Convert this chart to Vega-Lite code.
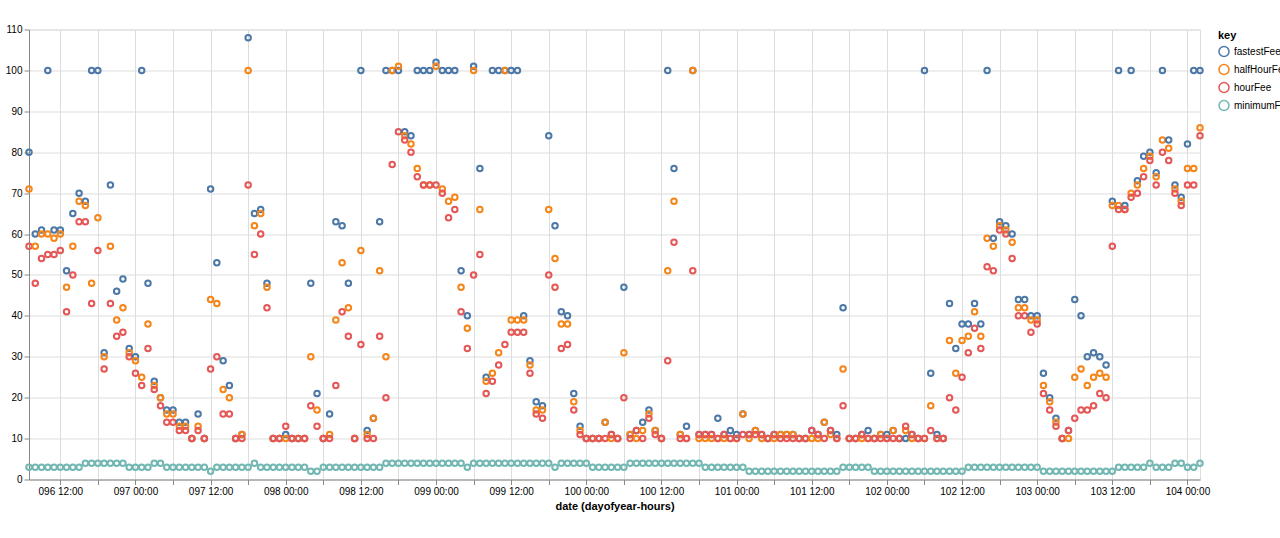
{
  "$schema": "https://vega.github.io/schema/vega-lite/v6.json",
  "width": 1171,
  "height": 450,
  "autosize": "none",
  "padding": {"left": 29, "top": 29.5, "right": 80, "bottom": 59},
  "data": {
    "values": [
      {"date": "2018-04-06T07:00", "fastestFee": 80, "halfHourFee": 71, "hourFee": 57, "minimumFee": 3},
      {"date": "2018-04-06T08:00", "fastestFee": 60, "halfHourFee": 57, "hourFee": 48, "minimumFee": 3},
      {"date": "2018-04-06T09:00", "fastestFee": 61, "halfHourFee": 60, "hourFee": 54, "minimumFee": 3},
      {"date": "2018-04-06T10:00", "fastestFee": 100, "halfHourFee": 60, "hourFee": 55, "minimumFee": 3},
      {"date": "2018-04-06T11:00", "fastestFee": 61, "halfHourFee": 59, "hourFee": 55, "minimumFee": 3},
      {"date": "2018-04-06T12:00", "fastestFee": 61, "halfHourFee": 60, "hourFee": 56, "minimumFee": 3},
      {"date": "2018-04-06T13:00", "fastestFee": 51, "halfHourFee": 47, "hourFee": 41, "minimumFee": 3},
      {"date": "2018-04-06T14:00", "fastestFee": 65, "halfHourFee": 57, "hourFee": 50, "minimumFee": 3},
      {"date": "2018-04-06T15:00", "fastestFee": 70, "halfHourFee": 68, "hourFee": 63, "minimumFee": 3},
      {"date": "2018-04-06T16:00", "fastestFee": 68, "halfHourFee": 67, "hourFee": 63, "minimumFee": 4},
      {"date": "2018-04-06T17:00", "fastestFee": 100, "halfHourFee": 48, "hourFee": 43, "minimumFee": 4},
      {"date": "2018-04-06T18:00", "fastestFee": 100, "halfHourFee": 64, "hourFee": 56, "minimumFee": 4},
      {"date": "2018-04-06T19:00", "fastestFee": 31, "halfHourFee": 30, "hourFee": 27, "minimumFee": 4},
      {"date": "2018-04-06T20:00", "fastestFee": 72, "halfHourFee": 57, "hourFee": 43, "minimumFee": 4},
      {"date": "2018-04-06T21:00", "fastestFee": 46, "halfHourFee": 39, "hourFee": 35, "minimumFee": 4},
      {"date": "2018-04-06T22:00", "fastestFee": 49, "halfHourFee": 42, "hourFee": 36, "minimumFee": 4},
      {"date": "2018-04-06T23:00", "fastestFee": 32, "halfHourFee": 31, "hourFee": 30, "minimumFee": 3},
      {"date": "2018-04-07T00:00", "fastestFee": 30, "halfHourFee": 29, "hourFee": 26, "minimumFee": 3},
      {"date": "2018-04-07T01:00", "fastestFee": 100, "halfHourFee": 25, "hourFee": 23, "minimumFee": 3},
      {"date": "2018-04-07T02:00", "fastestFee": 48, "halfHourFee": 38, "hourFee": 32, "minimumFee": 3},
      {"date": "2018-04-07T03:00", "fastestFee": 24, "halfHourFee": 23, "hourFee": 22, "minimumFee": 4},
      {"date": "2018-04-07T04:00", "fastestFee": 20, "halfHourFee": 20, "hourFee": 18, "minimumFee": 4},
      {"date": "2018-04-07T05:00", "fastestFee": 17, "halfHourFee": 16, "hourFee": 14, "minimumFee": 3},
      {"date": "2018-04-07T06:00", "fastestFee": 17, "halfHourFee": 16, "hourFee": 14, "minimumFee": 3},
      {"date": "2018-04-07T07:00", "fastestFee": 14, "halfHourFee": 13, "hourFee": 12, "minimumFee": 3},
      {"date": "2018-04-07T08:00", "fastestFee": 14, "halfHourFee": 13, "hourFee": 12, "minimumFee": 3},
      {"date": "2018-04-07T09:00", "fastestFee": 10, "halfHourFee": 10, "hourFee": 10, "minimumFee": 3},
      {"date": "2018-04-07T10:00", "fastestFee": 16, "halfHourFee": 13, "hourFee": 12, "minimumFee": 3},
      {"date": "2018-04-07T11:00", "fastestFee": 10, "halfHourFee": 10, "hourFee": 10, "minimumFee": 3},
      {"date": "2018-04-07T12:00", "fastestFee": 71, "halfHourFee": 44, "hourFee": 27, "minimumFee": 2},
      {"date": "2018-04-07T13:00", "fastestFee": 53, "halfHourFee": 43, "hourFee": 30, "minimumFee": 3},
      {"date": "2018-04-07T14:00", "fastestFee": 29, "halfHourFee": 22, "hourFee": 16, "minimumFee": 3},
      {"date": "2018-04-07T15:00", "fastestFee": 23, "halfHourFee": 20, "hourFee": 16, "minimumFee": 3},
      {"date": "2018-04-07T16:00", "fastestFee": 10, "halfHourFee": 10, "hourFee": 10, "minimumFee": 3},
      {"date": "2018-04-07T17:00", "fastestFee": 11, "halfHourFee": 11, "hourFee": 10, "minimumFee": 3},
      {"date": "2018-04-07T18:00", "fastestFee": 108, "halfHourFee": 100, "hourFee": 72, "minimumFee": 3},
      {"date": "2018-04-07T19:00", "fastestFee": 65, "halfHourFee": 62, "hourFee": 55, "minimumFee": 4},
      {"date": "2018-04-07T20:00", "fastestFee": 66, "halfHourFee": 65, "hourFee": 60, "minimumFee": 3},
      {"date": "2018-04-07T21:00", "fastestFee": 48, "halfHourFee": 47, "hourFee": 42, "minimumFee": 3},
      {"date": "2018-04-07T22:00", "fastestFee": 10, "halfHourFee": 10, "hourFee": 10, "minimumFee": 3},
      {"date": "2018-04-07T23:00", "fastestFee": 10, "halfHourFee": 10, "hourFee": 10, "minimumFee": 3},
      {"date": "2018-04-08T00:00", "fastestFee": 11, "halfHourFee": 10, "hourFee": 13, "minimumFee": 3},
      {"date": "2018-04-08T01:00", "fastestFee": 10, "halfHourFee": 10, "hourFee": 10, "minimumFee": 3},
      {"date": "2018-04-08T02:00", "fastestFee": 10, "halfHourFee": 10, "hourFee": 10, "minimumFee": 3},
      {"date": "2018-04-08T03:00", "fastestFee": 10, "halfHourFee": 10, "hourFee": 10, "minimumFee": 3},
      {"date": "2018-04-08T04:00", "fastestFee": 48, "halfHourFee": 30, "hourFee": 18, "minimumFee": 2},
      {"date": "2018-04-08T05:00", "fastestFee": 21, "halfHourFee": 17, "hourFee": 13, "minimumFee": 2},
      {"date": "2018-04-08T06:00", "fastestFee": 10, "halfHourFee": 10, "hourFee": 10, "minimumFee": 3},
      {"date": "2018-04-08T07:00", "fastestFee": 16, "halfHourFee": 11, "hourFee": 10, "minimumFee": 3},
      {"date": "2018-04-08T08:00", "fastestFee": 63, "halfHourFee": 39, "hourFee": 23, "minimumFee": 3},
      {"date": "2018-04-08T09:00", "fastestFee": 62, "halfHourFee": 53, "hourFee": 41, "minimumFee": 3},
      {"date": "2018-04-08T10:00", "fastestFee": 48, "halfHourFee": 42, "hourFee": 35, "minimumFee": 3},
      {"date": "2018-04-08T11:00", "fastestFee": 10, "halfHourFee": 10, "hourFee": 10, "minimumFee": 3},
      {"date": "2018-04-08T12:00", "fastestFee": 100, "halfHourFee": 56, "hourFee": 33, "minimumFee": 3},
      {"date": "2018-04-08T13:00", "fastestFee": 12, "halfHourFee": 11, "hourFee": 10, "minimumFee": 3},
      {"date": "2018-04-08T14:00", "fastestFee": 15, "halfHourFee": 15, "hourFee": 10, "minimumFee": 3},
      {"date": "2018-04-08T15:00", "fastestFee": 63, "halfHourFee": 51, "hourFee": 35, "minimumFee": 3},
      {"date": "2018-04-08T16:00", "fastestFee": 100, "halfHourFee": 30, "hourFee": 20, "minimumFee": 4},
      {"date": "2018-04-08T17:00", "fastestFee": 100, "halfHourFee": 100, "hourFee": 77, "minimumFee": 4},
      {"date": "2018-04-08T18:00", "fastestFee": 100, "halfHourFee": 101, "hourFee": 85, "minimumFee": 4},
      {"date": "2018-04-08T19:00", "fastestFee": 85, "halfHourFee": 84, "hourFee": 83, "minimumFee": 4},
      {"date": "2018-04-08T20:00", "fastestFee": 84, "halfHourFee": 82, "hourFee": 80, "minimumFee": 4},
      {"date": "2018-04-08T21:00", "fastestFee": 100, "halfHourFee": 76, "hourFee": 74, "minimumFee": 4},
      {"date": "2018-04-08T22:00", "fastestFee": 100, "halfHourFee": 72, "hourFee": 72, "minimumFee": 4},
      {"date": "2018-04-08T23:00", "fastestFee": 100, "halfHourFee": 72, "hourFee": 72, "minimumFee": 4},
      {"date": "2018-04-09T00:00", "fastestFee": 102, "halfHourFee": 101, "hourFee": 72, "minimumFee": 4},
      {"date": "2018-04-09T01:00", "fastestFee": 100, "halfHourFee": 71, "hourFee": 70, "minimumFee": 4},
      {"date": "2018-04-09T02:00", "fastestFee": 100, "halfHourFee": 68, "hourFee": 64, "minimumFee": 4},
      {"date": "2018-04-09T03:00", "fastestFee": 100, "halfHourFee": 69, "hourFee": 66, "minimumFee": 4},
      {"date": "2018-04-09T04:00", "fastestFee": 51, "halfHourFee": 47, "hourFee": 41, "minimumFee": 4},
      {"date": "2018-04-09T05:00", "fastestFee": 40, "halfHourFee": 37, "hourFee": 32, "minimumFee": 3},
      {"date": "2018-04-09T06:00", "fastestFee": 101, "halfHourFee": 100, "hourFee": 50, "minimumFee": 4},
      {"date": "2018-04-09T07:00", "fastestFee": 76, "halfHourFee": 66, "hourFee": 55, "minimumFee": 4},
      {"date": "2018-04-09T08:00", "fastestFee": 25, "halfHourFee": 24, "hourFee": 21, "minimumFee": 4},
      {"date": "2018-04-09T09:00", "fastestFee": 100, "halfHourFee": 26, "hourFee": 24, "minimumFee": 4},
      {"date": "2018-04-09T10:00", "fastestFee": 100, "halfHourFee": 31, "hourFee": 28, "minimumFee": 4},
      {"date": "2018-04-09T11:00", "fastestFee": 100, "halfHourFee": 100, "hourFee": 33, "minimumFee": 4},
      {"date": "2018-04-09T12:00", "fastestFee": 100, "halfHourFee": 39, "hourFee": 36, "minimumFee": 4},
      {"date": "2018-04-09T13:00", "fastestFee": 100, "halfHourFee": 39, "hourFee": 36, "minimumFee": 4},
      {"date": "2018-04-09T14:00", "fastestFee": 40, "halfHourFee": 39, "hourFee": 36, "minimumFee": 4},
      {"date": "2018-04-09T15:00", "fastestFee": 29, "halfHourFee": 28, "hourFee": 26, "minimumFee": 4},
      {"date": "2018-04-09T16:00", "fastestFee": 19, "halfHourFee": 17, "hourFee": 16, "minimumFee": 4},
      {"date": "2018-04-09T17:00", "fastestFee": 18, "halfHourFee": 17, "hourFee": 15, "minimumFee": 4},
      {"date": "2018-04-09T18:00", "fastestFee": 84, "halfHourFee": 66, "hourFee": 50, "minimumFee": 4},
      {"date": "2018-04-09T19:00", "fastestFee": 62, "halfHourFee": 54, "hourFee": 47, "minimumFee": 3},
      {"date": "2018-04-09T20:00", "fastestFee": 41, "halfHourFee": 38, "hourFee": 32, "minimumFee": 4},
      {"date": "2018-04-09T21:00", "fastestFee": 40, "halfHourFee": 38, "hourFee": 33, "minimumFee": 4},
      {"date": "2018-04-09T22:00", "fastestFee": 21, "halfHourFee": 19, "hourFee": 17, "minimumFee": 4},
      {"date": "2018-04-09T23:00", "fastestFee": 13, "halfHourFee": 12, "hourFee": 11, "minimumFee": 4},
      {"date": "2018-04-10T00:00", "fastestFee": 10, "halfHourFee": 10, "hourFee": 10, "minimumFee": 4},
      {"date": "2018-04-10T01:00", "fastestFee": 10, "halfHourFee": 10, "hourFee": 10, "minimumFee": 3},
      {"date": "2018-04-10T02:00", "fastestFee": 10, "halfHourFee": 10, "hourFee": 10, "minimumFee": 3},
      {"date": "2018-04-10T03:00", "fastestFee": 14, "halfHourFee": 14, "hourFee": 10, "minimumFee": 3},
      {"date": "2018-04-10T04:00", "fastestFee": 11, "halfHourFee": 10, "hourFee": 11, "minimumFee": 3},
      {"date": "2018-04-10T05:00", "fastestFee": 10, "halfHourFee": 10, "hourFee": 10, "minimumFee": 3},
      {"date": "2018-04-10T06:00", "fastestFee": 47, "halfHourFee": 31, "hourFee": 20, "minimumFee": 3},
      {"date": "2018-04-10T07:00", "fastestFee": 11, "halfHourFee": 11, "hourFee": 10, "minimumFee": 4},
      {"date": "2018-04-10T08:00", "fastestFee": 12, "halfHourFee": 10, "hourFee": 12, "minimumFee": 4},
      {"date": "2018-04-10T09:00", "fastestFee": 14, "halfHourFee": 12, "hourFee": 10, "minimumFee": 4},
      {"date": "2018-04-10T10:00", "fastestFee": 17, "halfHourFee": 16, "hourFee": 15, "minimumFee": 4},
      {"date": "2018-04-10T11:00", "fastestFee": 12, "halfHourFee": 12, "hourFee": 11, "minimumFee": 4},
      {"date": "2018-04-10T12:00", "fastestFee": 10, "halfHourFee": 10, "hourFee": 10, "minimumFee": 4},
      {"date": "2018-04-10T13:00", "fastestFee": 100, "halfHourFee": 51, "hourFee": 29, "minimumFee": 4},
      {"date": "2018-04-10T14:00", "fastestFee": 76, "halfHourFee": 68, "hourFee": 58, "minimumFee": 4},
      {"date": "2018-04-10T15:00", "fastestFee": 11, "halfHourFee": 11, "hourFee": 10, "minimumFee": 4},
      {"date": "2018-04-10T16:00", "fastestFee": 13, "halfHourFee": 10, "hourFee": 10, "minimumFee": 4},
      {"date": "2018-04-10T17:00", "fastestFee": 100, "halfHourFee": 100, "hourFee": 51, "minimumFee": 4},
      {"date": "2018-04-10T18:00", "fastestFee": 11, "halfHourFee": 10, "hourFee": 11, "minimumFee": 4},
      {"date": "2018-04-10T19:00", "fastestFee": 11, "halfHourFee": 10, "hourFee": 11, "minimumFee": 3},
      {"date": "2018-04-10T20:00", "fastestFee": 11, "halfHourFee": 10, "hourFee": 11, "minimumFee": 3},
      {"date": "2018-04-10T21:00", "fastestFee": 15, "halfHourFee": 10, "hourFee": 10, "minimumFee": 3},
      {"date": "2018-04-10T22:00", "fastestFee": 11, "halfHourFee": 10, "hourFee": 11, "minimumFee": 3},
      {"date": "2018-04-10T23:00", "fastestFee": 12, "halfHourFee": 10, "hourFee": 10, "minimumFee": 3},
      {"date": "2018-04-11T00:00", "fastestFee": 11, "halfHourFee": 10, "hourFee": 10, "minimumFee": 3},
      {"date": "2018-04-11T01:00", "fastestFee": 16, "halfHourFee": 16, "hourFee": 11, "minimumFee": 3},
      {"date": "2018-04-11T02:00", "fastestFee": 11, "halfHourFee": 10, "hourFee": 11, "minimumFee": 2},
      {"date": "2018-04-11T03:00", "fastestFee": 12, "halfHourFee": 12, "hourFee": 11, "minimumFee": 2},
      {"date": "2018-04-11T04:00", "fastestFee": 11, "halfHourFee": 10, "hourFee": 11, "minimumFee": 2},
      {"date": "2018-04-11T05:00", "fastestFee": 10, "halfHourFee": 10, "hourFee": 10, "minimumFee": 2},
      {"date": "2018-04-11T06:00", "fastestFee": 11, "halfHourFee": 10, "hourFee": 11, "minimumFee": 2},
      {"date": "2018-04-11T07:00", "fastestFee": 11, "halfHourFee": 11, "hourFee": 10, "minimumFee": 2},
      {"date": "2018-04-11T08:00", "fastestFee": 11, "halfHourFee": 11, "hourFee": 10, "minimumFee": 2},
      {"date": "2018-04-11T09:00", "fastestFee": 11, "halfHourFee": 11, "hourFee": 10, "minimumFee": 2},
      {"date": "2018-04-11T10:00", "fastestFee": 10, "halfHourFee": 10, "hourFee": 10, "minimumFee": 2},
      {"date": "2018-04-11T11:00", "fastestFee": 10, "halfHourFee": 10, "hourFee": 10, "minimumFee": 2},
      {"date": "2018-04-11T12:00", "fastestFee": 12, "halfHourFee": 10, "hourFee": 12, "minimumFee": 2},
      {"date": "2018-04-11T13:00", "fastestFee": 11, "halfHourFee": 10, "hourFee": 11, "minimumFee": 2},
      {"date": "2018-04-11T14:00", "fastestFee": 14, "halfHourFee": 14, "hourFee": 10, "minimumFee": 2},
      {"date": "2018-04-11T15:00", "fastestFee": 12, "halfHourFee": 11, "hourFee": 12, "minimumFee": 2},
      {"date": "2018-04-11T16:00", "fastestFee": 11, "halfHourFee": 10, "hourFee": 10, "minimumFee": 2},
      {"date": "2018-04-11T17:00", "fastestFee": 42, "halfHourFee": 27, "hourFee": 18, "minimumFee": 3},
      {"date": "2018-04-11T18:00", "fastestFee": 10, "halfHourFee": 10, "hourFee": 10, "minimumFee": 3},
      {"date": "2018-04-11T19:00", "fastestFee": 10, "halfHourFee": 10, "hourFee": 10, "minimumFee": 3},
      {"date": "2018-04-11T20:00", "fastestFee": 11, "halfHourFee": 10, "hourFee": 11, "minimumFee": 3},
      {"date": "2018-04-11T21:00", "fastestFee": 12, "halfHourFee": 10, "hourFee": 10, "minimumFee": 3},
      {"date": "2018-04-11T22:00", "fastestFee": 10, "halfHourFee": 10, "hourFee": 10, "minimumFee": 2},
      {"date": "2018-04-11T23:00", "fastestFee": 11, "halfHourFee": 11, "hourFee": 10, "minimumFee": 2},
      {"date": "2018-04-12T00:00", "fastestFee": 11, "halfHourFee": 10, "hourFee": 10, "minimumFee": 2},
      {"date": "2018-04-12T01:00", "fastestFee": 12, "halfHourFee": 12, "hourFee": 10, "minimumFee": 2},
      {"date": "2018-04-12T02:00", "fastestFee": 10, "halfHourFee": 10, "hourFee": 10, "minimumFee": 2},
      {"date": "2018-04-12T03:00", "fastestFee": 10, "halfHourFee": 12, "hourFee": 13, "minimumFee": 2},
      {"date": "2018-04-12T04:00", "fastestFee": 11, "halfHourFee": 10, "hourFee": 11, "minimumFee": 2},
      {"date": "2018-04-12T05:00", "fastestFee": 10, "halfHourFee": 10, "hourFee": 10, "minimumFee": 2},
      {"date": "2018-04-12T06:00", "fastestFee": 100, "halfHourFee": 10, "hourFee": 10, "minimumFee": 2},
      {"date": "2018-04-12T07:00", "fastestFee": 26, "halfHourFee": 18, "hourFee": 12, "minimumFee": 2},
      {"date": "2018-04-12T08:00", "fastestFee": 11, "halfHourFee": 10, "hourFee": 10, "minimumFee": 2},
      {"date": "2018-04-12T09:00", "fastestFee": 10, "halfHourFee": 10, "hourFee": 10, "minimumFee": 2},
      {"date": "2018-04-12T10:00", "fastestFee": 43, "halfHourFee": 34, "hourFee": 20, "minimumFee": 2},
      {"date": "2018-04-12T11:00", "fastestFee": 32, "halfHourFee": 26, "hourFee": 17, "minimumFee": 2},
      {"date": "2018-04-12T12:00", "fastestFee": 38, "halfHourFee": 34, "hourFee": 25, "minimumFee": 2},
      {"date": "2018-04-12T13:00", "fastestFee": 38, "halfHourFee": 35, "hourFee": 31, "minimumFee": 3},
      {"date": "2018-04-12T14:00", "fastestFee": 43, "halfHourFee": 41, "hourFee": 37, "minimumFee": 3},
      {"date": "2018-04-12T15:00", "fastestFee": 38, "halfHourFee": 35, "hourFee": 32, "minimumFee": 3},
      {"date": "2018-04-12T16:00", "fastestFee": 100, "halfHourFee": 59, "hourFee": 52, "minimumFee": 3},
      {"date": "2018-04-12T17:00", "fastestFee": 59, "halfHourFee": 57, "hourFee": 51, "minimumFee": 3},
      {"date": "2018-04-12T18:00", "fastestFee": 63, "halfHourFee": 62, "hourFee": 61, "minimumFee": 3},
      {"date": "2018-04-12T19:00", "fastestFee": 62, "halfHourFee": 61, "hourFee": 60, "minimumFee": 3},
      {"date": "2018-04-12T20:00", "fastestFee": 60, "halfHourFee": 58, "hourFee": 54, "minimumFee": 3},
      {"date": "2018-04-12T21:00", "fastestFee": 44, "halfHourFee": 42, "hourFee": 40, "minimumFee": 3},
      {"date": "2018-04-12T22:00", "fastestFee": 44, "halfHourFee": 42, "hourFee": 40, "minimumFee": 3},
      {"date": "2018-04-12T23:00", "fastestFee": 40, "halfHourFee": 39, "hourFee": 36, "minimumFee": 3},
      {"date": "2018-04-13T00:00", "fastestFee": 40, "halfHourFee": 39, "hourFee": 38, "minimumFee": 3},
      {"date": "2018-04-13T01:00", "fastestFee": 26, "halfHourFee": 23, "hourFee": 21, "minimumFee": 2},
      {"date": "2018-04-13T02:00", "fastestFee": 20, "halfHourFee": 19, "hourFee": 17, "minimumFee": 2},
      {"date": "2018-04-13T03:00", "fastestFee": 15, "halfHourFee": 14, "hourFee": 13, "minimumFee": 2},
      {"date": "2018-04-13T04:00", "fastestFee": 10, "halfHourFee": 10, "hourFee": 10, "minimumFee": 2},
      {"date": "2018-04-13T05:00", "fastestFee": 12, "halfHourFee": 10, "hourFee": 12, "minimumFee": 2},
      {"date": "2018-04-13T06:00", "fastestFee": 44, "halfHourFee": 25, "hourFee": 15, "minimumFee": 2},
      {"date": "2018-04-13T07:00", "fastestFee": 40, "halfHourFee": 27, "hourFee": 17, "minimumFee": 2},
      {"date": "2018-04-13T08:00", "fastestFee": 30, "halfHourFee": 23, "hourFee": 17, "minimumFee": 2},
      {"date": "2018-04-13T09:00", "fastestFee": 31, "halfHourFee": 25, "hourFee": 18, "minimumFee": 2},
      {"date": "2018-04-13T10:00", "fastestFee": 30, "halfHourFee": 26, "hourFee": 21, "minimumFee": 2},
      {"date": "2018-04-13T11:00", "fastestFee": 28, "halfHourFee": 25, "hourFee": 20, "minimumFee": 2},
      {"date": "2018-04-13T12:00", "fastestFee": 68, "halfHourFee": 67, "hourFee": 57, "minimumFee": 2},
      {"date": "2018-04-13T13:00", "fastestFee": 100, "halfHourFee": 67, "hourFee": 66, "minimumFee": 3},
      {"date": "2018-04-13T14:00", "fastestFee": 67, "halfHourFee": 66, "hourFee": 66, "minimumFee": 3},
      {"date": "2018-04-13T15:00", "fastestFee": 100, "halfHourFee": 70, "hourFee": 69, "minimumFee": 3},
      {"date": "2018-04-13T16:00", "fastestFee": 73, "halfHourFee": 72, "hourFee": 70, "minimumFee": 3},
      {"date": "2018-04-13T17:00", "fastestFee": 79, "halfHourFee": 76, "hourFee": 74, "minimumFee": 3},
      {"date": "2018-04-13T18:00", "fastestFee": 80, "halfHourFee": 79, "hourFee": 78, "minimumFee": 4},
      {"date": "2018-04-13T19:00", "fastestFee": 75, "halfHourFee": 74, "hourFee": 72, "minimumFee": 3},
      {"date": "2018-04-13T20:00", "fastestFee": 100, "halfHourFee": 83, "hourFee": 80, "minimumFee": 3},
      {"date": "2018-04-13T21:00", "fastestFee": 83, "halfHourFee": 81, "hourFee": 78, "minimumFee": 3},
      {"date": "2018-04-13T22:00", "fastestFee": 72, "halfHourFee": 71, "hourFee": 70, "minimumFee": 4},
      {"date": "2018-04-13T23:00", "fastestFee": 69, "halfHourFee": 68, "hourFee": 67, "minimumFee": 4},
      {"date": "2018-04-14T00:00", "fastestFee": 82, "halfHourFee": 76, "hourFee": 72, "minimumFee": 3},
      {"date": "2018-04-14T01:00", "fastestFee": 100, "halfHourFee": 76, "hourFee": 72, "minimumFee": 3},
      {"date": "2018-04-14T02:00", "fastestFee": 100, "halfHourFee": 86, "hourFee": 84, "minimumFee": 4}
    ]
  },
  "transform": [
    {"fold": ["fastestFee", "halfHourFee", "hourFee", "minimumFee"]}
  ],
  "mark": {"type": "point", "opacity": 1},
  "encoding": {
    "x": {
      "field": "date",
      "type": "temporal",
      "title": "date (dayofyear-hours)",
      "scale": {"nice": false},
      "axis": {
        "tickCount": 30,
        "format": "%j %H:%M"
      }
    },
    "y": {
      "field": "value",
      "type": "quantitative",
      "title": null,
      "scale": {"domain": [0, 110]}
    },
    "color": {"field": "key", "type": "nominal"}
  }
}
